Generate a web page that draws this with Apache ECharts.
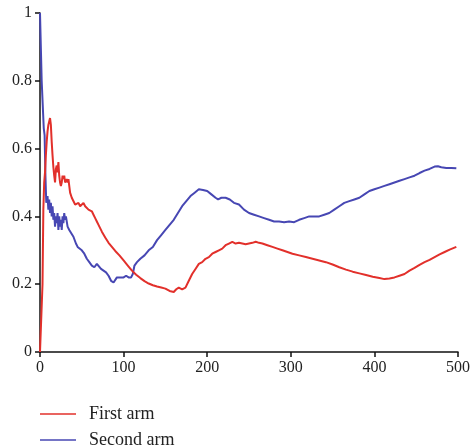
<!DOCTYPE html>
<html>
<head>
<meta charset="utf-8">
<script src="https://cdn.jsdelivr.net/npm/echarts@6/dist/echarts.min.js"></script>
<style>html,body{margin:0;padding:0;background:#fff}#c{width:473px;height:448px}</style>
</head>
<body>
<div id="c"></div>
<script>
var xTicks = [0, 100, 200, 300, 400, 500];
var yTicks = [0, 0.2, 0.4, 0.6, 0.8, 1];
var seriesNames = ['First arm', 'Second arm'];

var firstX = [0,2,3,4,5,6,7,8,9,10,11,12,13,14,15,16,17,18,19,20,21,22,23,24,25,26,27,28,29,30,31,32,33,34,35,36,38,40,42,44,46,48,50,52,54,56,58,60,62,64,66,68,70,74,78,82,86,90,95,100,105,110,115,120,125,130,135,140,145,150,155,160,163,166,170,174,178,182,186,190,194,198,202,206,210,214,218,222,226,230,234,238,242,246,250,254,258,262,266,272,278,284,290,296,302,310,318,326,334,342,350,358,366,374,382,390,398,406,412,418,424,430,436,442,448,454,460,466,472,478,484,490,498];
var firstY = [0,0,0.2,0.42,0.5,0.53,0.58,0.62,0.65,0.67,0.68,0.69,0.67,0.62,0.58,0.545,0.52,0.5,0.54,0.55,0.53,0.56,0.52,0.5,0.49,0.5,0.52,0.51,0.52,0.5,0.505,0.51,0.5,0.51,0.49,0.47,0.455,0.45,0.435,0.43,0.44,0.43,0.425,0.44,0.43,0.425,0.42,0.425,0.415,0.405,0.395,0.385,0.375,0.355,0.338,0.322,0.31,0.298,0.285,0.27,0.255,0.24,0.228,0.218,0.209,0.202,0.197,0.193,0.19,0.187,0.18,0.177,0.185,0.19,0.185,0.19,0.21,0.23,0.245,0.26,0.265,0.275,0.28,0.29,0.295,0.3,0.305,0.315,0.32,0.325,0.32,0.322,0.32,0.318,0.32,0.322,0.325,0.322,0.32,0.315,0.31,0.305,0.3,0.295,0.29,0.285,0.28,0.275,0.27,0.265,0.258,0.25,0.243,0.237,0.232,0.227,0.222,0.218,0.215,0.217,0.22,0.225,0.23,0.24,0.248,0.257,0.265,0.272,0.28,0.288,0.295,0.302,0.31];

var secondX = [0,1.5,2,4,4.5,5.5,6.5,7.5,9,10,11,12,13,14,15,16,17,18,19,20,21,22,23,24,25,26,27,28,29,30,31,33,35,37,40,43,45,47,50,53,56,59,62,65,68,70,73,76,79,82,85,88,90,92,94,96,98,100,103,106,109,111,113,116,120,125,130,135,140,145,150,155,160,165,170,175,180,185,190,195,200,205,210,213,217,222,227,232,238,244,250,256,262,268,274,280,286,292,298,304,310,316,322,328,334,340,346,352,358,364,370,376,382,388,394,400,406,412,418,424,430,436,442,448,454,460,466,472,476,480,486,492,498];
var secondY = [1,1,0.8,0.8,0.66,0.64,0.52,0.44,0.46,0.42,0.45,0.41,0.44,0.4,0.43,0.39,0.41,0.37,0.4,0.38,0.41,0.36,0.4,0.37,0.39,0.36,0.4,0.38,0.41,0.39,0.4,0.37,0.36,0.355,0.34,0.32,0.31,0.31,0.3,0.29,0.275,0.265,0.255,0.25,0.26,0.255,0.245,0.24,0.235,0.225,0.21,0.205,0.21,0.22,0.225,0.22,0.215,0.22,0.225,0.22,0.22,0.23,0.255,0.265,0.275,0.285,0.3,0.31,0.33,0.345,0.36,0.375,0.39,0.41,0.43,0.445,0.46,0.47,0.48,0.478,0.475,0.465,0.455,0.45,0.455,0.455,0.45,0.44,0.435,0.42,0.41,0.405,0.4,0.395,0.39,0.385,0.385,0.383,0.385,0.383,0.39,0.395,0.4,0.4,0.4,0.405,0.41,0.42,0.43,0.44,0.445,0.45,0.455,0.465,0.475,0.48,0.485,0.49,0.495,0.5,0.505,0.51,0.515,0.52,0.528,0.535,0.54,0.547,0.548,0.545,0.543,0.543,0.542];

function zip(xs, ys) { return xs.map(function (x, i) { return [x, ys[i]]; }); }

var chart = echarts.init(document.getElementById('c'), null, { renderer: 'canvas' });
var serif = 'Liberation Serif';
function legendFor(name, top) {
  return {
    orient: 'vertical', left: 40, top: top, padding: 0,
    icon: 'rect', itemWidth: 36, itemHeight: 1.5,
    data: [name],
    textStyle: { fontFamily: serif, fontSize: 18, color: '#222', padding: [0, 0, 0, 8], lineHeight: 18 }
  };
}
chart.setOption({
  animation: false,
  backgroundColor: '#fff',
  grid: { left: 40, right: 15, top: 13, bottom: 96, containLabel: false },
  legend: [legendFor(seriesNames[0], 405), legendFor(seriesNames[1], 431)],
  xAxis: {
    type: 'value', min: xTicks[0], max: xTicks[xTicks.length - 1], interval: 100,
    axisLine: { lineStyle: { color: '#111', width: 1.5 } },
    axisTick: { show: true, inside: false, length: 5, lineStyle: { color: '#111', width: 1.5 } },
    axisLabel: { fontFamily: serif, fontSize: 16, color: '#222', margin: 8 },
    splitLine: { show: false }
  },
  yAxis: {
    type: 'value', min: yTicks[0], max: yTicks[yTicks.length - 1], interval: 0.2,
    axisLine: { show: true, lineStyle: { color: '#111', width: 1.5 } },
    axisTick: { show: true, inside: false, length: 5, lineStyle: { color: '#111', width: 1.5 } },
    axisLabel: { fontFamily: serif, fontSize: 16, color: '#222', margin: 8 },
    splitLine: { show: false }
  },
  series: [
    { name: seriesNames[0], type: 'line', data: zip(firstX, firstY), showSymbol: false, symbol: 'none',
      lineStyle: { color: '#e2302b', width: 2 }, itemStyle: { color: '#e2302b' }, z: 3 },
    { name: seriesNames[1], type: 'line', data: zip(secondX, secondY), showSymbol: false, symbol: 'none',
      lineStyle: { color: '#4747b3', width: 2 }, itemStyle: { color: '#4747b3' }, z: 2 }
  ]
});
</script>
</body>
</html>
